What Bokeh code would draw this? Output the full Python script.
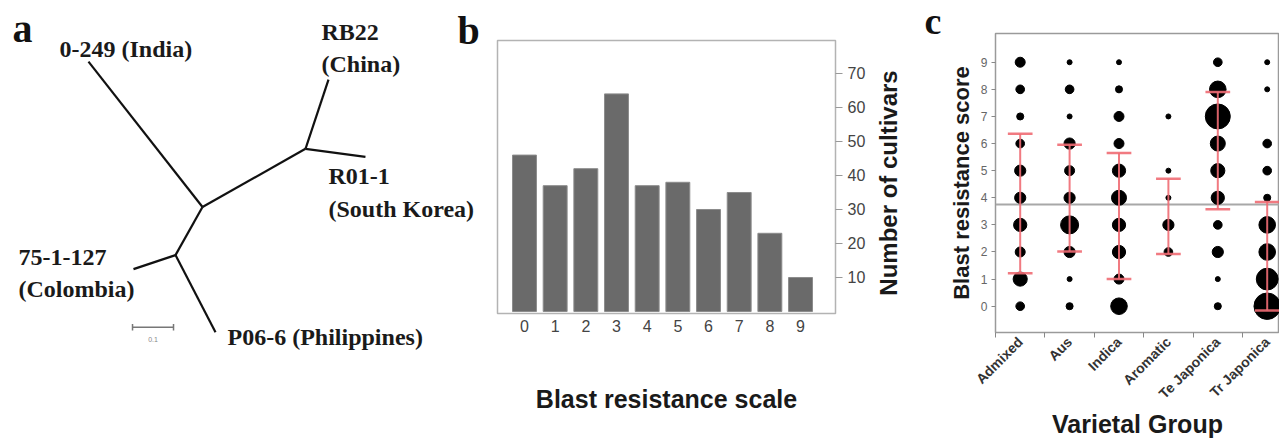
import math
from bokeh.plotting import figure
from bokeh.models import Range1d, FixedTicker, Span, LinearAxis
from bokeh.embed import file_html
from bokeh.resources import INLINE
from bokeh.core.properties import value

SANS = "Liberation Sans"
SERIF = "Liberation Serif"

# ---------------- Panel a: unrooted tree (tree-distance units, scale bar = 0.1) -------------
node_names = ["India", "N1", "N2", "RB22", "R01", "N3", "Colombia", "Philippines"]
node_x = [0.2146, 0.4927, 0.7439, 0.8000, 0.8902, 0.4268, 0.3244, 0.5244]
node_y = [0.9293, 0.5756, 0.7171, 0.8854, 0.6976, 0.4585, 0.4244, 0.2707]
edge_from = ["N1", "N1", "N2", "N2", "N1", "N3", "N3"]
edge_to = ["India", "N2", "RB22", "R01", "N3", "Colombia", "Philippines"]

leaf_text = ["0-249 (India)", "RB22", "(China)", "R01-1", "(South Korea)",
             "75-1-127", "(Colombia)", "P06-6 (Philippines)"]
leaf_text_x = [0.1439, 0.7829, 0.7829, 0.8000, 0.8000, 0.0439, 0.0439, 0.5537]
leaf_text_y = [0.9415, 0.9829, 0.9049, 0.6317, 0.5512, 0.4341, 0.3561, 0.2390]
scale_bar_len = 0.1

# ---------------- Panel b: histogram --------------------------------------------------------
blast_scale = [0, 1, 2, 3, 4, 5, 6, 7, 8, 9]
n_cultivars = [46, 37, 42, 64, 37, 38, 30, 35, 23, 10]
b_yticks = [10, 20, 30, 40, 50, 60, 70]

# ---------------- Panel c: bubble plot by varietal group ------------------------------------
groups = ["Admixed", "Aus", "Indica", "Aromatic", "Te Japonica", "Tr Japonica"]
scores = [0, 1, 2, 3, 4, 5, 6, 7, 8, 9]
admixed_n = [3, 8, 4, 7, 5, 5, 3, 2, 3, 4]
aus_n = [2, 1, 5, 13, 5, 4, 5, 1, 3, 1]
indica_n = [11, 4, 7, 7, 9, 7, 4, 4, 2, 1]
aromatic_n = [0, 0, 3, 5, 1, 1, 0, 1, 0, 0]
te_japonica_n = [2, 1, 5, 3, 7, 8, 9, 25, 11, 3]
tr_japonica_n = [28, 19, 11, 11, 2, 3, 3, 0, 1, 1]
sd_low = [1.22, 2.02, 1.00, 1.93, 3.58, -0.16]
sd_high = [6.36, 5.96, 5.65, 4.70, 7.90, 3.84]
grand_mean = 3.75

H = 442

# ============================ Panel a (also carries the "b" panel letter) =================
UNIT_PX = 410.0
WA = 488
pa = figure(width=WA, height=H, x_range=Range1d(0, WA / UNIT_PX), y_range=Range1d(1 / UNIT_PX, H / UNIT_PX),
            output_backend="svg", toolbar_location=None, title=None,
            x_axis_location=None, y_axis_location=None, min_border=0)
pa.outline_line_color = None
pa.xgrid.visible = False
pa.ygrid.visible = False

idx = {n: i for i, n in enumerate(node_names)}
pa.segment(x0=[node_x[idx[a]] for a in edge_from], y0=[node_y[idx[a]] for a in edge_from],
           x1=[node_x[idx[b]] for b in edge_to], y1=[node_y[idx[b]] for b in edge_to],
           line_color="#111111", line_width=2.2)

def lift(fs):
    # small upward correction of text placement (in tree units) for a font of fs px
    return 0.33 * fs / UNIT_PX

pa.text(x=leaf_text_x, y=[v + lift(24) for v in leaf_text_y], text=leaf_text, text_font=value(SERIF),
        text_font_style="bold", text_font_size="24px", text_color="#1a1a1a",
        text_baseline="alphabetic", text_align="left")
pa.text(x=[0.0293, 1.1146], y=[0.978 + lift(40), 0.9732 + lift(40)], text=["a", "b"],
        text_font=value(SERIF), text_font_style="bold", text_font_size="40px",
        text_color="#111111", text_baseline="alphabetic")

# scale bar
sb_x0, sb_y = 0.3220, 0.2829
pa.segment(x0=[sb_x0, sb_x0, sb_x0 + scale_bar_len], y0=[sb_y, sb_y - 0.008, sb_y - 0.008],
           x1=[sb_x0 + scale_bar_len, sb_x0, sb_x0 + scale_bar_len], y1=[sb_y, sb_y + 0.008, sb_y + 0.008],
           line_color="#777777", line_width=1.5)
pa.text(x=[sb_x0 + scale_bar_len / 2], y=[0.2463 + lift(7)], text=[str(scale_bar_len)],
        text_font=value(SANS), text_font_size="7px", text_color="#888888",
        text_align="center", text_baseline="alphabetic")

# ============================ Panel b =====================================================
pb = figure(width=382, height=H, x_range=Range1d(-0.88, 10.14), y_range=Range1d(-0.59, 79.7),
            y_axis_location="right", output_backend="svg", toolbar_location=None, title=None,
            min_border_left=9, min_border_right=35, min_border_top=40, min_border_bottom=129)
pb.vbar(x=blast_scale, top=n_cultivars, bottom=0, width=0.78,
        fill_color="#6a6a6a", line_color="#8c8c8c", line_width=1)
pb.xgrid.visible = False
pb.ygrid.visible = False
pb.outline_line_color = "#b3b3b3"
pb.outline_line_width = 1.5

pb.xaxis.ticker = FixedTicker(ticks=blast_scale)
pb.xaxis.major_tick_out = 0
pb.xaxis.major_tick_in = 0
pb.xaxis.minor_tick_out = 0
pb.xaxis.axis_line_color = "#b3b3b3"
pb.xaxis.major_label_text_font = SANS
pb.xaxis.major_label_text_font_size = "16px"
pb.xaxis.major_label_text_color = "#444444"
pb.xaxis.major_label_standoff = 6
pb.xaxis.axis_label = "Blast resistance scale"
pb.xaxis.axis_label_text_font = SANS
pb.xaxis.axis_label_text_font_style = "bold"
pb.xaxis.axis_label_text_font_size = "25px"
pb.xaxis.axis_label_text_color = "#1a1a1a"
pb.xaxis.axis_label_standoff = 50

pb.yaxis.ticker = FixedTicker(ticks=b_yticks)
pb.yaxis.major_tick_out = 7
pb.yaxis.major_tick_in = 0
pb.yaxis.major_tick_line_color = "#999999"
pb.yaxis.axis_line_color = "#b3b3b3"
pb.yaxis.major_label_text_font = SANS
pb.yaxis.major_label_text_font_size = "16px"
pb.yaxis.major_label_text_color = "#444444"
pb.yaxis.major_label_standoff = 5

# ============================ Panel c =====================================================
pc = figure(width=409, height=H, x_range=Range1d(-0.5, 5.249), y_range=Range1d(-0.97, 10.06),
            output_backend="svg", toolbar_location=None, title="c",
            min_border_left=125, min_border_right=0, min_border_top=33, min_border_bottom=110)
pc.xgrid.visible = False
pc.ygrid.visible = False
pc.outline_line_color = "#9a9a9a"
pc.outline_line_width = 1.5
pc.title.text_font = SERIF
pc.title.text_font_style = "bold"
pc.title.text_font_size = "38px"
pc.title.text_color = "#111111"
pc.title.align = "left"
pc.title.vertical_align = "middle"
pc.title.offset = -71
pc.title.standoff = -18

pc.add_layout(Span(location=grand_mean, dimension="width", line_color="#a8a8a8",
                   line_width=2, level="underlay"))

all_counts = [admixed_n, aus_n, indica_n, aromatic_n, te_japonica_n, tr_japonica_n]
bx, by, bs = [], [], []
for gi, cnts in enumerate(all_counts):
    for s, n in zip(scores, cnts):
        if n > 0:
            bx.append(gi)
            by.append(s)
            bs.append(5.0 * math.sqrt(n))
pc.scatter(x=bx, y=by, size=bs, marker="circle", fill_color="black", line_color="black")

gx = list(range(len(groups)))
err_color = "#ef6b73"
pc.segment(x0=gx, y0=sd_low, x1=gx, y1=sd_high, line_color=err_color, line_width=2, line_alpha=0.9)
cap = 0.25
pc.segment(x0=[g - cap for g in gx], y0=sd_low, x1=[g + cap for g in gx], y1=sd_low,
           line_color=err_color, line_width=2.5, line_alpha=0.9)
pc.segment(x0=[g - cap for g in gx], y0=sd_high, x1=[g + cap for g in gx], y1=sd_high,
           line_color=err_color, line_width=2.5, line_alpha=0.9)

pc.yaxis.ticker = FixedTicker(ticks=scores)
pc.yaxis.major_tick_out = 4
pc.yaxis.major_tick_in = 0
pc.yaxis.major_tick_line_color = "#888888"
pc.yaxis.axis_line_color = "#9a9a9a"
pc.yaxis.major_label_text_font = SANS
pc.yaxis.major_label_text_font_size = "12px"
pc.yaxis.major_label_text_color = "#666666"
pc.yaxis.major_label_standoff = 4
pc.yaxis.axis_label = "Blast resistance score"
pc.yaxis.axis_label_text_font = SANS
pc.yaxis.axis_label_text_font_style = "bold"
pc.yaxis.axis_label_text_font_size = "22px"
pc.yaxis.axis_label_text_color = "#1a1a1a"
pc.yaxis.axis_label_standoff = 4

# title of panel b's right-hand count axis (reads bottom-to-top, sits just right of b's tick labels)
count_title_axis = LinearAxis(ticker=FixedTicker(ticks=[]), axis_label="Number of cultivars",
                              axis_line_color=None, major_tick_line_color=None,
                              minor_tick_line_color=None, major_tick_out=0, minor_tick_out=0,
                              major_tick_in=0, minor_tick_in=0, major_label_standoff=0,
                              axis_label_standoff=44, axis_label_text_font=SANS,
                              axis_label_text_font_style="bold", axis_label_text_font_size="24px",
                              axis_label_text_color="#1a1a1a")
pc.add_layout(count_title_axis, "left")

pc.xaxis.ticker = FixedTicker(ticks=gx, minor_ticks=[g - 0.5 for g in gx])
pc.xaxis.major_label_overrides = {g: name for g, name in zip(gx, groups)}
pc.xaxis.major_tick_out = 0
pc.xaxis.major_tick_in = 0
pc.xaxis.minor_tick_out = 5
pc.xaxis.minor_tick_in = 0
pc.xaxis.minor_tick_line_color = "#888888"
pc.xaxis.axis_line_color = "#9a9a9a"
pc.xaxis.major_label_orientation = math.pi / 4
pc.xaxis.major_label_text_font = SANS
pc.xaxis.major_label_text_font_style = "bold"
pc.xaxis.major_label_text_font_size = "14px"
pc.xaxis.major_label_text_color = "#333333"
pc.xaxis.major_label_standoff = 2
pc.xaxis.axis_label = "Varietal Group"
pc.xaxis.axis_label_text_font = SANS
pc.xaxis.axis_label_text_font_style = "bold"
pc.xaxis.axis_label_text_font_size = "25px"
pc.xaxis.axis_label_text_color = "#1a1a1a"
pc.xaxis.axis_label_standoff = 0

# three independent roots laid side by side (no frame alignment between panels)
TEMPLATE = """
{% block preamble %}
<style>
  html { overflow: hidden !important; }
  body { display: flex !important; flex-direction: row !important; align-items: flex-start !important;
         flex-wrap: nowrap !important; overflow: hidden !important; margin: 0 !important; }
</style>
{% endblock %}
{% block postamble %}
<style>
  html { overflow: hidden !important; }
  body { display: flex !important; flex-direction: row !important; align-items: flex-start !important;
         flex-wrap: nowrap !important; overflow: hidden !important; margin: 0 !important; }
</style>
{% endblock %}
"""

p = [pa, pb, pc]
open("out.html", "w").write(file_html(p, INLINE, template=TEMPLATE))
